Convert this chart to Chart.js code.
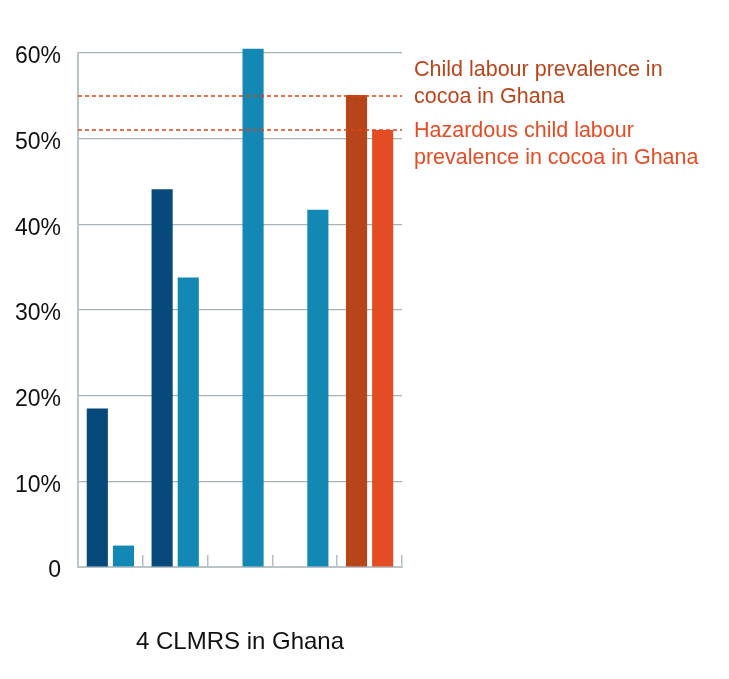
<!DOCTYPE html>
<html>
<head>
<meta charset="utf-8">
<script src="https://cdn.jsdelivr.net/npm/chart.js@4"></script>
<style>
	body { margin: 0; background: #fff; }
	#wrap { width: 729px; height: 679px; }
</style>
</head>
<body>
<div id="wrap"><canvas id="chart" width="729" height="679"></canvas></div>
<script>
const categories = ['', '', '', '', ''];
const firstSeries = [18.5, 44.1, null, null, 55.1];
const secondSeries = [2.5, 33.8, 60.5, 41.7, 51.0];
const firstColors = ['#08497B', '#08497B', '#08497B', '#08497B', '#B8441A'];
const secondColors = ['#1488B5', '#1488B5', '#1488B5', '#1488B5', '#E44C23'];
const yTicks = [0, 10, 20, 30, 40, 50, 60];

const refValues = [55, 51];
const refLabels = [
	['Child labour prevalence in', 'cocoa in Ghana'],
	['Hazardous child labour', 'prevalence in cocoa in Ghana'],
];
const refColors = ['#B8441A', '#E44C23'];
const axisTitle = '4 CLMRS in Ghana';

const FONT = '"Liberation Sans", Arial, sans-serif';

// dashed reference lines + their labels to the right of the plot
const refLinesPlugin = {
	id: 'refLines',
	afterDatasetsDraw(chart) {
		const { ctx, chartArea, scales } = chart;
		const y = scales.y;
		ctx.save();
		refValues.forEach((v, i) => {
			const py = Math.round(y.getPixelForValue(v));
			ctx.strokeStyle = '#DC4419';
			ctx.lineWidth = 1.5;
			ctx.setLineDash([4, 3]);
			ctx.beginPath();
			ctx.moveTo(chartArea.left, py);
			ctx.lineTo(chartArea.right, py);
			ctx.stroke();

			ctx.setLineDash([]);
			ctx.fillStyle = refColors[i];
			ctx.font = '21.5px ' + FONT;
			ctx.textAlign = 'left';
			ctx.textBaseline = 'middle';
			const lines = refLabels[i];
			// first label sits above its line, second one starts on it
			const start = i === 0 ? py - 27 * (lines.length - 1) : py;
			lines.forEach((t, j) => {
				ctx.fillText(t, chartArea.right + 12, start + 1 + 27 * j);
			});
		});
		ctx.restore();
	},
};

function createChart() {
	const ctx = document.getElementById('chart').getContext('2d');
	new Chart(ctx, {
		type: 'bar',
		data: {
			labels: categories,
			datasets: [
				{
					data: firstSeries,
					backgroundColor: firstColors,
					categoryPercentage: 0.807,
					barPercentage: 0.808,
					clip: false,
				},
				{
					data: secondSeries,
					backgroundColor: secondColors,
					categoryPercentage: 0.807,
					barPercentage: 0.808,
					clip: false,
				},
			],
		},
		options: {
			responsive: false,
			animation: false,
			layout: {
				padding: { top: 53, right: 327, bottom: 0, left: 0 },
			},
			plugins: {
				legend: { display: false },
				tooltip: { enabled: false },
			},
			scales: {
				x: {
					afterFit(scale) {
						scale.height = 112;
					},
					grid: {
						display: true,
						drawOnChartArea: false,
						drawTicks: true,
						tickLength: -12,
						color: '#B3BEC3',
						lineWidth: 1.5,
					},
					border: { color: '#BAC4C8', width: 2 },
					ticks: { display: false },
					title: {
						display: true,
						text: axisTitle,
						color: '#111',
						font: { family: FONT, size: 24 },
						padding: { top: 0, bottom: 22 },
					},
				},
				y: {
					min: 0,
					max: 60,
					afterFit(scale) {
						scale.width = 78;
					},
					afterBuildTicks(scale) {
						scale.ticks = yTicks.map((v) => ({ value: v }));
					},
					grid: {
						drawTicks: false,
						color: '#A7B3B9',
						lineWidth: 1.2,
					},
					border: { color: '#BAC4C8', width: 2 },
					ticks: {
						padding: 17,
						labelOffset: 4,
						color: '#111',
						font: { family: FONT, size: 23 },
						callback: (v) => (v === 0 ? '0' : v + '%'),
					},
				},
			},
		},
		plugins: [refLinesPlugin],
	});
}

document.addEventListener('DOMContentLoaded', createChart);
</script>
</body>
</html>
